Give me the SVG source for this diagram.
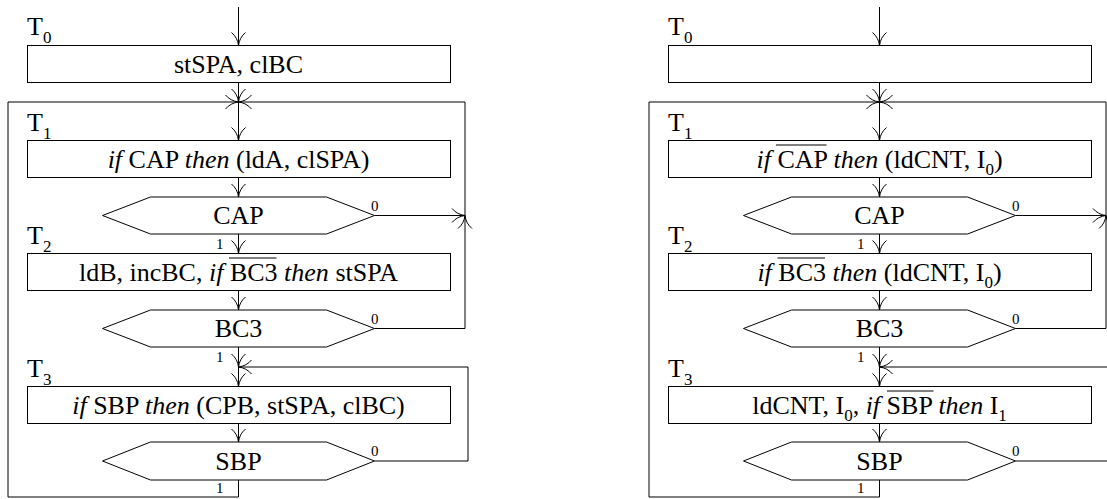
<svg xmlns="http://www.w3.org/2000/svg" xmlns:xlink="http://www.w3.org/1999/xlink" width="1107" height="499" viewBox="0 0 1107 499" font-family="'Liberation Serif', 'Times New Roman', Times, 'DejaVu Serif', serif">
<style>
.b{fill:#fff;stroke:#000;stroke-width:1}
.c{fill:none;stroke:#000;stroke-width:1}
.ah{fill:none;stroke:#000;stroke-width:1}
.ov{stroke:#000;stroke-width:1.2}
.t{font-size:26px;text-anchor:middle}
.T{font-size:26px}
.i{font-style:italic}
.sub{font-size:17px}
.s{font-size:15px}
</style>
<defs>
<path id="ah" class="ah" d="M-7,-13 Q-1,-8 0,0 Q1,-8 7,-13"/>
</defs>

<!-- ============ LEFT DIAGRAM ============ -->
<g id="left-connectors">
<path class="c" d="M238.5,7 V45.5"/>
<path class="c" d="M238.5,82.5 V140.5"/>
<path class="c" d="M238.5,177.5 V197"/>
<path class="c" d="M238.5,234 V253.5"/>
<path class="c" d="M238.5,290.5 V310"/>
<path class="c" d="M238.5,347 V386.5"/>
<path class="c" d="M238.5,423.5 V442"/>
<path class="c" d="M238.5,480 V497 H8 V102 H238.5"/>
<path class="c" d="M374.5,328.5 H465 V102 H238.5"/>
<path class="c" d="M374.5,215.5 H465"/>
<path class="c" d="M374.5,461 H468 V367 H238.5"/>
<use xlink:href="#ah" transform="translate(238.5,45.5)"/>
<use xlink:href="#ah" transform="translate(238.5,102)"/>
<use xlink:href="#ah" transform="translate(238.5,102) rotate(-90)"/>
<use xlink:href="#ah" transform="translate(238.5,102) rotate(90)"/>
<use xlink:href="#ah" transform="translate(238.5,140.5)"/>
<use xlink:href="#ah" transform="translate(238.5,197)"/>
<use xlink:href="#ah" transform="translate(238.5,253.5)"/>
<use xlink:href="#ah" transform="translate(238.5,310)"/>
<use xlink:href="#ah" transform="translate(238.5,367)"/>
<use xlink:href="#ah" transform="translate(238.5,367) rotate(90)"/>
<use xlink:href="#ah" transform="translate(238.5,386.5)"/>
<use xlink:href="#ah" transform="translate(238.5,442)"/>
<use xlink:href="#ah" transform="translate(465,215.5) rotate(-90)"/>
<use xlink:href="#ah" transform="translate(465,215.5) rotate(180)"/>
<text class="s" x="371" y="210.5">0</text>
<text class="s" x="216" y="249">1</text>
<text class="s" x="371" y="323.5">0</text>
<text class="s" x="216" y="362">1</text>
<text class="s" x="371" y="456">0</text>
<text class="s" x="216" y="493">1</text>
</g>

<g id="L-T0"><text class="T" x="27" y="35">T<tspan class="sub" dy="8">0</tspan></text></g>
<g id="L-T1"><text class="T" x="27" y="131">T<tspan class="sub" dy="8">1</tspan></text></g>
<g id="L-T2"><text class="T" x="27" y="244">T<tspan class="sub" dy="8">2</tspan></text></g>
<g id="L-T3"><text class="T" x="27" y="377">T<tspan class="sub" dy="8">3</tspan></text></g>

<g id="L-box0">
<rect class="b" x="27.5" y="45.5" width="423" height="37"/>
<text class="t" x="238.5" y="73">stSPA, clBC</text>
</g>
<g id="L-box1">
<rect class="b" x="27.5" y="140.5" width="423" height="37"/>
<text class="t" x="238.5" y="168"><tspan class="i">if</tspan> CAP <tspan class="i">then</tspan> (ldA, clSPA)</text>
</g>
<g id="L-CAP">
<polygon class="b" points="102.5,215.5 150.5,197 326.5,197 374.5,215.5 326.5,234 150.5,234"/>
<text class="t" x="238.5" y="224">CAP</text>
</g>
<g id="L-box2">
<rect class="b" x="27.5" y="253.5" width="423" height="37"/>
<text class="t" x="238.5" y="281">ldB, incBC, <tspan class="i">if</tspan> BC3 <tspan class="i">then</tspan> stSPA</text>
<line class="ov" x1="229" y1="258" x2="276.5" y2="258"/>
</g>
<g id="L-BC3">
<polygon class="b" points="102.5,328.5 150.5,310 326.5,310 374.5,328.5 326.5,347 150.5,347"/>
<text class="t" x="238.5" y="337">BC3</text>
</g>
<g id="L-box3">
<rect class="b" x="27.5" y="386.5" width="423" height="37"/>
<text class="t" x="238.5" y="414"><tspan class="i">if</tspan> SBP <tspan class="i">then</tspan> (CPB, stSPA, clBC)</text>
</g>
<g id="L-SBP">
<polygon class="b" points="102.5,461 150.5,442 326.5,442 374.5,461 326.5,480 150.5,480"/>
<text class="t" x="238.5" y="470">SBP</text>
</g>

<!-- ============ RIGHT DIAGRAM ============ -->
<g id="right-connectors">
<path class="c" d="M879.5,7 V45.5"/>
<path class="c" d="M879.5,82.5 V140.5"/>
<path class="c" d="M879.5,177.5 V197"/>
<path class="c" d="M879.5,234 V253.5"/>
<path class="c" d="M879.5,290.5 V310"/>
<path class="c" d="M879.5,347 V386.5"/>
<path class="c" d="M879.5,423.5 V442"/>
<path class="c" d="M879.5,480 V497 H649 V102 H879.5"/>
<path class="c" d="M1015.5,328.5 H1106 V102 H879.5"/>
<path class="c" d="M1015.5,215.5 H1106"/>
<path class="c" d="M1015.5,461 H1109 V367 H879.5"/>
<use xlink:href="#ah" transform="translate(879.5,45.5)"/>
<use xlink:href="#ah" transform="translate(879.5,102)"/>
<use xlink:href="#ah" transform="translate(879.5,102) rotate(-90)"/>
<use xlink:href="#ah" transform="translate(879.5,102) rotate(90)"/>
<use xlink:href="#ah" transform="translate(879.5,140.5)"/>
<use xlink:href="#ah" transform="translate(879.5,197)"/>
<use xlink:href="#ah" transform="translate(879.5,253.5)"/>
<use xlink:href="#ah" transform="translate(879.5,310)"/>
<use xlink:href="#ah" transform="translate(879.5,367)"/>
<use xlink:href="#ah" transform="translate(879.5,367) rotate(90)"/>
<use xlink:href="#ah" transform="translate(879.5,386.5)"/>
<use xlink:href="#ah" transform="translate(879.5,442)"/>
<use xlink:href="#ah" transform="translate(1106,215.5) rotate(-90)"/>
<use xlink:href="#ah" transform="translate(1106,215.5) rotate(180)"/>
<text class="s" x="1012" y="210.5">0</text>
<text class="s" x="857" y="249">1</text>
<text class="s" x="1012" y="323.5">0</text>
<text class="s" x="857" y="362">1</text>
<text class="s" x="1012" y="456">0</text>
<text class="s" x="857" y="493">1</text>
</g>

<g id="R-T0"><text class="T" x="668" y="35">T<tspan class="sub" dy="8">0</tspan></text></g>
<g id="R-T1"><text class="T" x="668" y="131">T<tspan class="sub" dy="8">1</tspan></text></g>
<g id="R-T2"><text class="T" x="668" y="244">T<tspan class="sub" dy="8">2</tspan></text></g>
<g id="R-T3"><text class="T" x="668" y="377">T<tspan class="sub" dy="8">3</tspan></text></g>

<g id="R-box0">
<rect class="b" x="668.5" y="45.5" width="423" height="37"/>
</g>
<g id="R-box1">
<rect class="b" x="668.5" y="140.5" width="423" height="37"/>
<text class="t" x="879.5" y="168"><tspan class="i">if</tspan> CAP <tspan class="i">then</tspan> (ldCNT, I<tspan class="sub" dy="7">0</tspan><tspan dy="-7">)</tspan></text>
<line class="ov" x1="776" y1="145" x2="826.5" y2="145"/>
</g>
<g id="R-CAP">
<polygon class="b" points="743.5,215.5 791.5,197 967.5,197 1015.5,215.5 967.5,234 791.5,234"/>
<text class="t" x="879.5" y="224">CAP</text>
</g>
<g id="R-box2">
<rect class="b" x="668.5" y="253.5" width="423" height="37"/>
<text class="t" x="879.5" y="281"><tspan class="i">if</tspan> BC3 <tspan class="i">then</tspan> (ldCNT, I<tspan class="sub" dy="7">0</tspan><tspan dy="-7">)</tspan></text>
<line class="ov" x1="777.5" y1="258" x2="825" y2="258"/>
</g>
<g id="R-BC3">
<polygon class="b" points="743.5,328.5 791.5,310 967.5,310 1015.5,328.5 967.5,347 791.5,347"/>
<text class="t" x="879.5" y="337">BC3</text>
</g>
<g id="R-box3">
<rect class="b" x="668.5" y="386.5" width="423" height="37"/>
<text class="t" x="879.5" y="414">ldCNT, I<tspan class="sub" dy="7">0</tspan><tspan dy="-7">, </tspan><tspan class="i">if</tspan> SBP <tspan class="i">then</tspan> I<tspan class="sub" dy="7">1</tspan></text>
<line class="ov" x1="887" y1="391" x2="933.5" y2="391"/>
</g>
<g id="R-SBP">
<polygon class="b" points="743.5,461 791.5,442 967.5,442 1015.5,461 967.5,480 791.5,480"/>
<text class="t" x="879.5" y="470">SBP</text>
</g>
</svg>
